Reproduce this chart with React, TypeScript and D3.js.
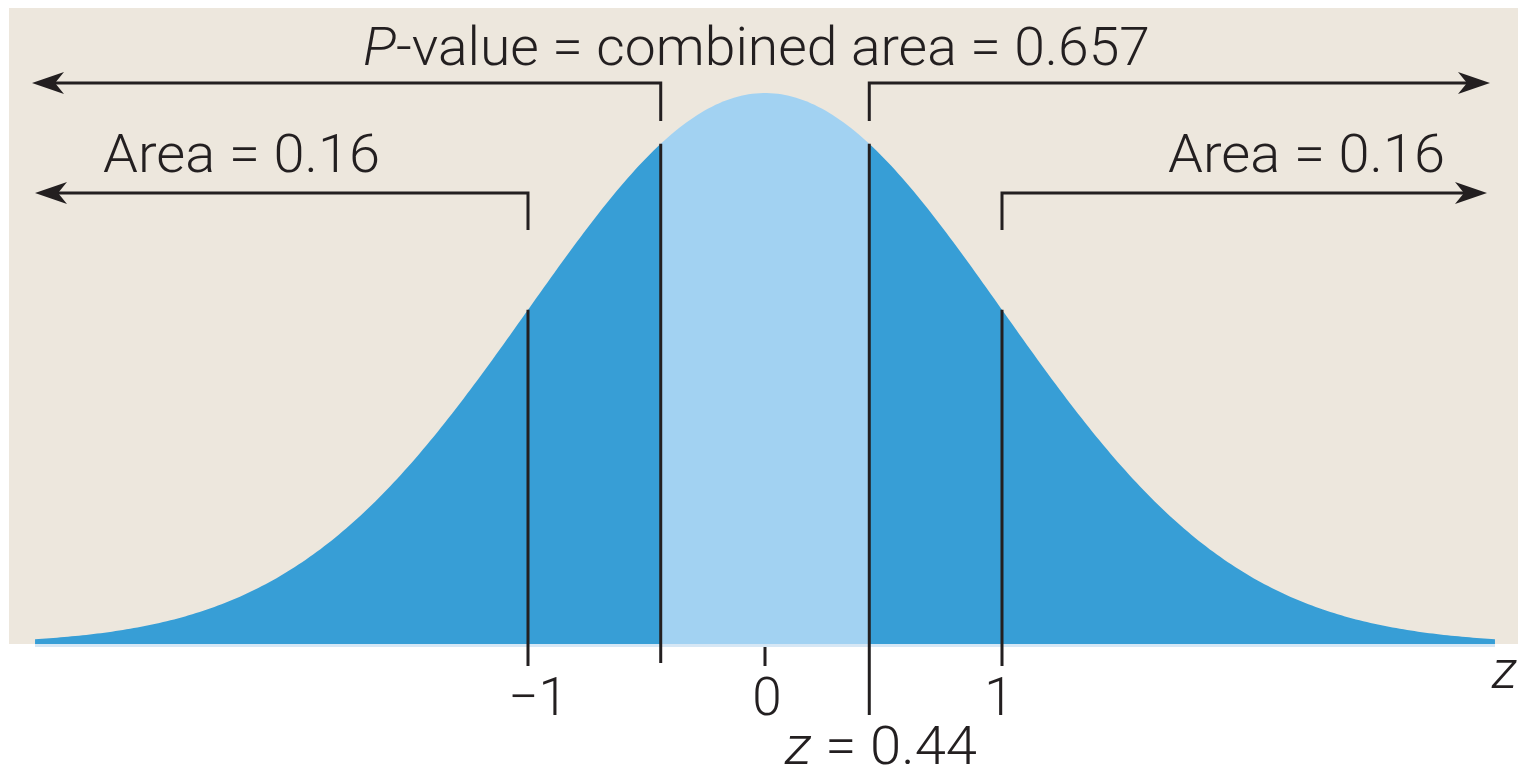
import React from "react";
import * as d3 from "d3";

// ---- data ----
const zCut = 0.44;
const pValue = 0.657;
const tailArea = 0.16;
const tickValues = [-1, 0, 1];
const tickLabels = ["\u22121", "0", "1"];
const zExtent = [-3.08, 3.08];
const curveSteps = 400;

const INK = "#231f20";
const BG = "#ede7dd";
const DARK = "#379ed6";
const LIGHT = "#a2d2f2";

const pdf = (z: number) => Math.exp(-0.5 * z * z) / Math.sqrt(2 * Math.PI);

export default function App() {
  const W = 1518;
  const H = 768;
  const x = d3.scaleLinear().domain([-1, 1]).range([528, 1002]);
  const y = d3.scaleLinear().domain([0, pdf(0)]).range([644, 93]);

  const pts = (a: number, b: number) => {
    const n = Math.max(2, Math.round(((b - a) / (zExtent[1] - zExtent[0])) * curveSteps));
    return d3.range(n + 1).map((i) => a + ((b - a) * i) / n);
  };
  const area = d3
    .area<number>()
    .x((d) => x(d))
    .y0(y(0))
    .y1((d) => y(pdf(d)));

  const leftTail = area(pts(zExtent[0], -zCut)) || "";
  const middle = area(pts(-zCut, zCut)) || "";
  const rightTail = area(pts(zCut, zExtent[1])) || "";

  const arrowHead = (tx: number, ty: number, dir: number) => {
    const L = 32;
    const w = 11;
    return `M${tx},${ty} L${tx - dir * L},${ty - w} L${tx - dir * L * 0.72},${ty} L${tx - dir * L},${ty + w} Z`;
  };

  const yTop = 83;
  const yMid = 193;
  const fs = 53;
  const font = "Roboto, 'Liberation Sans', Arial, sans-serif";
  const fw = 300;

  const bracketLines = [
    { z: -zCut, yh: yTop, yEnd: 121, tip: 32, dir: -1 },
    { z: zCut, yh: yTop, yEnd: 121, tip: 1490, dir: 1 },
    { z: -1, yh: yMid, yEnd: 230, tip: 35, dir: -1 },
    { z: 1, yh: yMid, yEnd: 230, tip: 1487, dir: 1 },
  ];

  const markLines = [
    { z: -1, bottom: 666 },
    { z: -zCut, bottom: 663 },
    { z: zCut, bottom: 715 },
    { z: 1, bottom: 666 },
  ];

  return (
    <svg
      width={W}
      height={H}
      style={{ position: "absolute", left: 0, top: 0, background: "#fff" }}
      fontFamily={font}
      fontWeight={fw}
    >
      <rect x={9} y={8} width={W - 9} height={644 - 8} fill={BG} />
      <path d={leftTail} fill={DARK} />
      <path d={middle} fill={LIGHT} />
      <path d={rightTail} fill={DARK} />
      <rect
        x={x(zExtent[0])}
        y={644}
        width={x(zExtent[1]) - x(zExtent[0])}
        height={3}
        fill="#d6e7f5"
      />

      {markLines.map((m, i) => (
        <line
          key={"m" + i}
          x1={x(m.z)}
          x2={x(m.z)}
          y1={y(pdf(m.z))}
          y2={m.bottom}
          stroke={INK}
          strokeWidth={3}
        />
      ))}
      <line x1={x(0)} x2={x(0)} y1={647} y2={666} stroke={INK} strokeWidth={3} />

      {bracketLines.map((b, i) => (
        <g key={"b" + i}>
          <path
            d={`M${x(b.z)},${b.yEnd} L${x(b.z)},${b.yh} L${b.tip - b.dir * 20},${b.yh}`}
            fill="none"
            stroke={INK}
            strokeWidth={3}
          />
          <path d={arrowHead(b.tip, b.yh, b.dir)} fill={INK} />
        </g>
      ))}

      <text x={363} y={65} fontSize={fs} fill={INK} textLength={787} lengthAdjust="spacingAndGlyphs">
        <tspan fontStyle="italic">P</tspan>
        {`-value = combined area = ${pValue}`}
      </text>
      <text x={103} y={172} fontSize={fs} fill={INK} textLength={277} lengthAdjust="spacingAndGlyphs">
        {`Area = ${tailArea}`}
      </text>
      <text x={1168} y={172} fontSize={fs} fill={INK} textLength={277} lengthAdjust="spacingAndGlyphs">
        {`Area = ${tailArea}`}
      </text>

      {tickValues.map((t, i) => (
        <text
          key={"t" + i}
          x={x(t) + (t < 0 ? 10 : t > 0 ? -3 : 2)}
          y={715}
          fontSize={fs}
          fill={INK}
          textAnchor="middle"
        >
          {tickLabels[i]}
        </text>
      ))}

      <text x={1492} y={688} fontSize={fs} fill={INK} fontStyle="italic">
        z
      </text>
      <text x={785} y={764} fontSize={fs} fill={INK} textLength={192} lengthAdjust="spacingAndGlyphs">
        <tspan fontStyle="italic">z</tspan>
        {` = ${zCut}`}
      </text>
    </svg>
  );
}
